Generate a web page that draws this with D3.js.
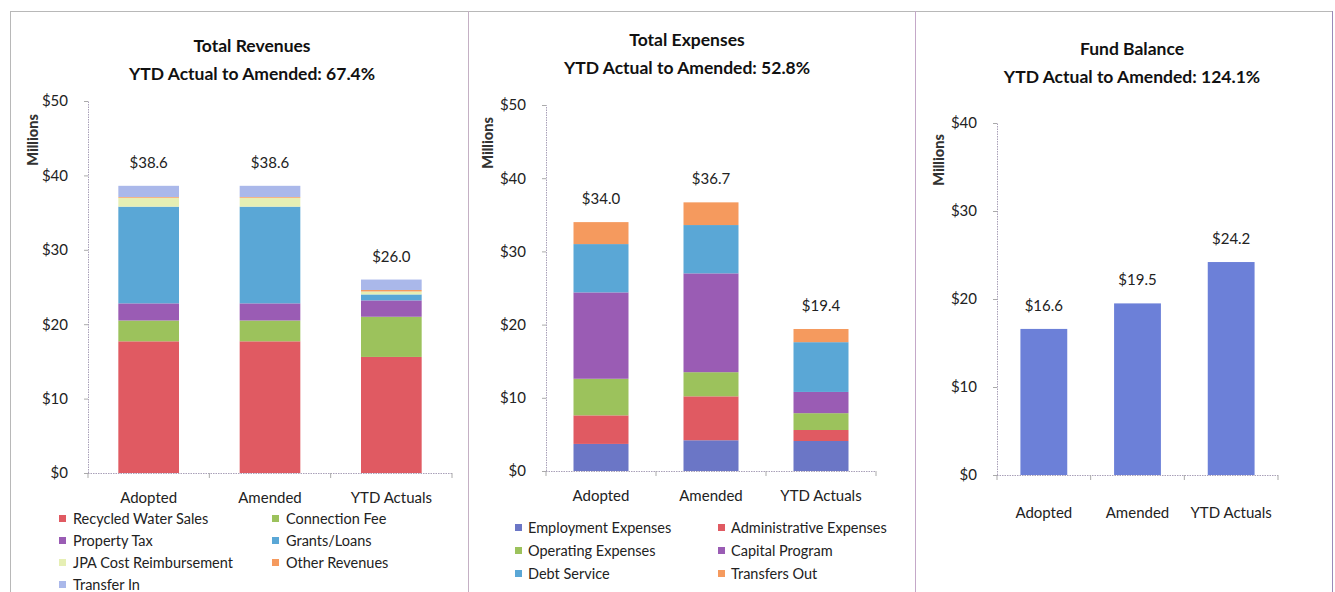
<!DOCTYPE html>
<html><head><meta charset="utf-8">
<script src="https://cdn.jsdelivr.net/npm/d3@7"></script>
<style>
body{margin:0;background:#fff;}
svg{display:block;font-family:Lato, "Open Sans", sans-serif;}
</style></head>
<body><svg id="c" width="1335" height="592"></svg>
<script>
const categories = ["Adopted", "Amended", "YTD Actuals"];

// Revenues (millions)
const revSeries = ["Recycled Water Sales","Connection Fee","Property Tax","Grants/Loans","JPA Cost Reimbursement","Other Revenues","Transfer In"];
const revRecycled   = [17.7, 17.7, 15.6];
const revConnection = [2.8, 2.8, 5.4];
const revProperty   = [2.3, 2.3, 2.2];
const revGrants     = [13.0, 13.0, 0.8];
const revJPA        = [1.2, 1.2, 0.4];
const revOther      = [0.1, 0.1, 0.2];
const revTransferIn = [1.5, 1.5, 1.4];
const revTotals     = ["$38.6", "$38.6", "$26.0"];

// Expenses (millions)
const expSeries = ["Employment Expenses","Administrative Expenses","Operating Expenses","Capital Program","Debt Service","Transfers Out"];
const expEmployment = [3.7, 4.2, 4.1];
const expAdmin      = [3.9, 6.0, 1.5];
const expOperating  = [5.0, 3.3, 2.3];
const expCapital    = [11.8, 13.5, 2.9];
const expDebt       = [6.6, 6.6, 6.8];
const expTransfers  = [3.0, 3.1, 1.8];
const expTotals     = ["$34.0", "$36.7", "$19.4"];

// Fund balance (millions)
const fundBalance   = [16.6, 19.5, 24.2];
const fundLabels    = ["$16.6", "$19.5", "$24.2"];

const revTicks  = [0, 10, 20, 30, 40, 50];
const expTicks  = [0, 10, 20, 30, 40, 50];
const fundTicks = [0, 10, 20, 30, 40];

const revColors = ["#e05a62","#9cc25c","#9a5cb4","#5aa7d6","#e6efb4","#f59a5e","#aab8ea"];
const expColors = ["#6b76c6","#e05a62","#9cc25c","#9a5cb4","#5aa7d6","#f59a5e"];
const fundColor = "#6c80d8";

const svg = d3.select("#c");

// frame
const frame = svg.append("g").attr("fill","none").attr("stroke","#b8b8b8").attr("stroke-width",1);
frame.append("line").attr("x1",10).attr("x2",1333).attr("y1",11.5).attr("y2",11.5);
frame.append("line").attr("x1",10.5).attr("x2",10.5).attr("y1",11).attr("y2",592);
frame.append("line").attr("x1",468.5).attr("x2",468.5).attr("y1",11).attr("y2",592).attr("stroke","#c4b0c4");
frame.append("line").attr("x1",915.5).attr("x2",915.5).attr("y1",11).attr("y2",592).attr("stroke","#c4a8c8");
frame.append("line").attr("x1",1332.5).attr("x2",1332.5).attr("y1",11).attr("y2",592).attr("stroke","#9a8ab8");

function panel(opt){
  const g = svg.append("g");
  const x = d3.scaleBand().domain(categories).range([opt.x0, opt.x1]).paddingInner(0.5).paddingOuter(0.25);
  const y = d3.scaleLinear().domain([0, opt.max]).range([opt.y0, opt.yTop]);

  // titles
  g.append("text").attr("x",opt.tc).attr("y",opt.ty).attr("text-anchor","middle")
    .attr("font-weight","bold").attr("font-size",17.5).attr("fill","#111").text(opt.title1);
  g.append("text").attr("x",opt.tc).attr("y",opt.ty+28).attr("text-anchor","middle")
    .attr("font-weight","bold").attr("font-size",17.5).attr("fill","#111").text(opt.title2);

  // y axis
  const ya = g.append("g").attr("transform",`translate(${opt.x0},0)`)
    .call(d3.axisLeft(y).tickValues(opt.ticks).tickSize(4).tickPadding(16).tickFormat(d=>"$"+d));
  ya.select(".domain").attr("stroke","#a9a0b8").attr("stroke-dasharray","1.5,1");
  ya.selectAll(".tick line").attr("stroke","#aaa");
  ya.selectAll(".tick text").attr("font-size",15).attr("fill","#222").attr("font-family","Lato, sans-serif");

  // Millions label
  g.append("text").attr("transform",`translate(${opt.mx},${opt.my}) rotate(-90)`)
    .attr("text-anchor","middle").attr("font-weight","900").attr("font-size",14.5).attr("fill","#333").text("Millions");

  // bars
  if (opt.stack){
    const rows = categories.map((c,i)=>{const o={cat:c}; opt.series.forEach((s,k)=>o[s]=opt.values[k][i]); return o;});
    const st = d3.stack().keys(opt.series)(rows);
    st.forEach((layer,k)=>{
      g.append("g").attr("fill",opt.colors[k]).selectAll("rect").data(layer).join("rect")
        .attr("x",d=>x(d.data.cat)).attr("width",x.bandwidth())
        .attr("y",d=>y(d[1])).attr("height",d=>Math.max(0,y(d[0])-y(d[1])));
    });
    const tops = categories.map((c,i)=>d3.sum(opt.values,v=>v[i]));
    g.selectAll(".vl").data(categories).join("text")
      .attr("x",c=>x(c)+x.bandwidth()/2).attr("y",(c,i)=>y(tops[i])-18)
      .attr("text-anchor","middle").attr("font-size",15).attr("fill","#222").text((c,i)=>opt.labels[i]);
  } else {
    g.append("g").attr("fill",opt.colors[0]).selectAll("rect").data(categories).join("rect")
      .attr("x",c=>x(c)).attr("width",x.bandwidth())
      .attr("y",(c,i)=>y(opt.values[0][i])).attr("height",(c,i)=>opt.y0-y(opt.values[0][i]));
    g.selectAll(".vl").data(categories).join("text")
      .attr("x",c=>x(c)+x.bandwidth()/2).attr("y",(c,i)=>y(opt.values[0][i])-18)
      .attr("text-anchor","middle").attr("font-size",15).attr("fill","#222").text((c,i)=>opt.labels[i]);
  }

  // x axis
  g.append("line").attr("x1",opt.x0).attr("x2",opt.x1).attr("y1",opt.y0+0.5).attr("y2",opt.y0+0.5)
    .attr("stroke","#a9a0b8").attr("stroke-dasharray","1.5,1");
  const bounds = [opt.x0].concat(categories.map(c=>x(c)+x.bandwidth()+x.step()*0.25));
  g.selectAll(".xt").data(bounds).join("line")
    .attr("x1",d=>d).attr("x2",d=>d).attr("y1",opt.y0).attr("y2",opt.y0+5).attr("stroke","#aaa");
  g.selectAll(".xl").data(categories).join("text")
    .attr("x",c=>x(c)+x.bandwidth()/2).attr("y",opt.y0+opt.xly)
    .attr("text-anchor","middle").attr("font-size",15).attr("fill","#222").text(c=>c);

  // legend
  if (opt.legend){
    const L = opt.legend;
    const lg = g.append("g");
    opt.series.forEach((s,k)=>{
      const col = k%2, row = Math.floor(k/2);
      const lx = L.cx[col], ly = L.y0 + row*L.dy;
      lg.append("rect").attr("x",lx).attr("y",ly-5).attr("width",7).attr("height",7).attr("fill",opt.colors[k]);
      lg.append("text").attr("x",lx+L.tx).attr("y",ly+4).attr("font-size",14.5).attr("fill","#222").text(s);
    });
  }
}

panel({title1:"Total Revenues", title2:"YTD Actual to Amended: 67.4%", tc:252, ty:52,
  x0:88, x1:452, y0:473, yTop:101, max:50, ticks:revTicks, mx:38, my:140,
  stack:true, series:revSeries,
  values:[revRecycled,revConnection,revProperty,revGrants,revJPA,revOther,revTransferIn],
  colors:revColors, labels:revTotals, xly:30,
  legend:{cx:[59,272], y0:520, dy:22, tx:14}});

panel({title1:"Total Expenses", title2:"YTD Actual to Amended: 52.8%", tc:687, ty:46,
  x0:546, x1:876, y0:471, yTop:105, max:50, ticks:expTicks, mx:493, my:143,
  stack:true, series:expSeries,
  values:[expEmployment,expAdmin,expOperating,expCapital,expDebt,expTransfers],
  colors:expColors, labels:expTotals, xly:30,
  legend:{cx:[515,718], y0:529, dy:23, tx:13}});

panel({title1:"Fund Balance", title2:"YTD Actual to Amended: 124.1%", tc:1132, ty:55,
  x0:997, x1:1278, y0:475, yTop:123, max:40, ticks:fundTicks, mx:944, my:160,
  stack:false, series:["Fund Balance"], values:[fundBalance],
  colors:[fundColor], labels:fundLabels, xly:43});
</script></body></html>
